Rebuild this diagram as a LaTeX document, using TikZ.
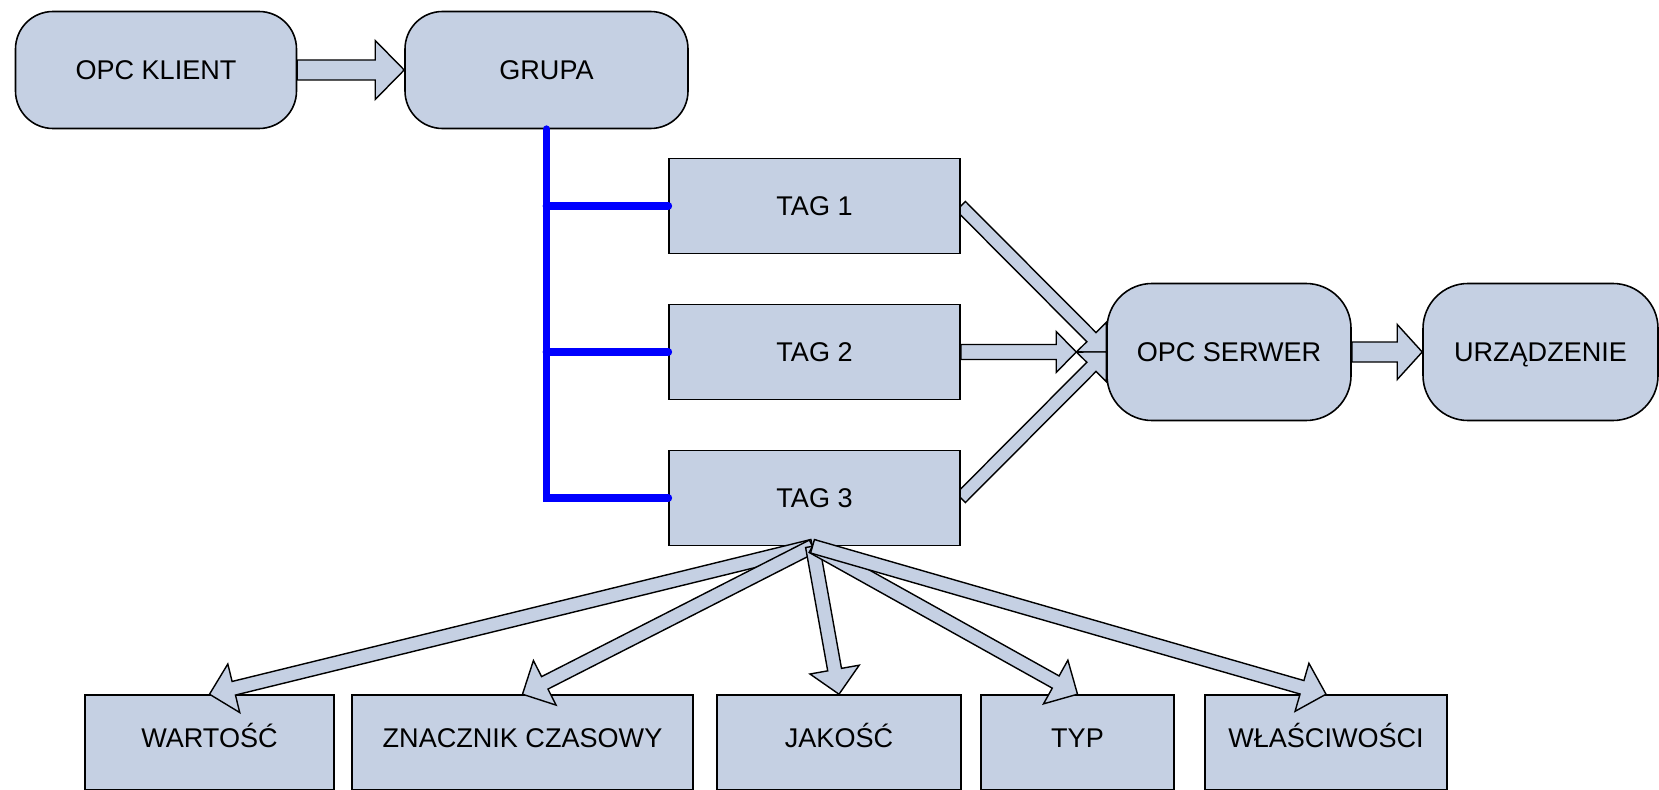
\documentclass[tikz,border=0pt]{standalone}
\usepackage{fontspec}
\setmainfont{Liberation Sans}
\usepackage{xcolor}
\usetikzlibrary{calc}
\definecolor{opcfill}{RGB}{197,208,227}
\definecolor{bus}{RGB}{0,0,255}
\tikzstyle{box}=[draw, fill=opcfill, line width=0.9pt, inner sep=0pt, minimum height=1.9cm, text height=11pt, text depth=0pt, font=\fontsize{15.4}{18}\selectfont]
\tikzstyle{pill}=[box, rounded corners=0.75cm, minimum height=2.34cm]
\tikzstyle{field}=[box, text depth=4.8pt]
\tikzset{link/.style={draw=bus, line width=4.5pt, line cap=round}}
%% block arrow: half shaft, half head, head length
\tikzset{fat/.style n args={3}{draw, fill=opcfill, line width=0.8pt, line join=miter,
    to path={
      ($(\tikztostart)!#1!90:(\tikztotarget)$)
      -- ($(\tikztotarget)!#3!(\tikztostart)!#1!270:(\tikztostart)$)
      -- ($(\tikztotarget)!#3!(\tikztostart)!#2!270:(\tikztostart)$)
      -- (\tikztotarget)
      -- ($(\tikztotarget)!#3!(\tikztostart)!#2!90:(\tikztostart)$)
      -- ($(\tikztotarget)!#3!(\tikztostart)!#1!90:(\tikztostart)$)
      -- ($(\tikztostart)!#1!270:(\tikztotarget)$)
      -- cycle}}}
\pgfdeclarelayer{background}
\pgfsetlayers{background,main}

\begin{document}
\begin{tikzpicture}
  \useasboundingbox (0,0) rectangle (33.18,15.78);

  \draw (3.12,14.38) node[pill,minimum width=5.62cm] (klient) {OPC KLIENT};
  \draw (10.93,14.38) node[pill,minimum width=5.66cm] (grupa) {GRUPA};

  \draw (16.29,11.66) node[box,minimum width=5.82cm] (tag1) {TAG 1};
  \draw (16.29,8.74) node[box,minimum width=5.82cm] (tag2) {TAG 2};
  \draw (16.29,5.82) node[box,minimum width=5.82cm] (tag3) {TAG 3};

  \draw (24.58,8.74) node[pill,rounded corners=0.9cm,minimum width=4.88cm,minimum height=2.74cm] (serwer) {OPC SERWER};
  \draw (30.81,8.74) node[pill,rounded corners=0.9cm,minimum width=4.7cm,minimum height=2.74cm] (urzadzenie) {URZĄDZENIE};

  \draw (4.19,0.93) node[field,minimum width=4.98cm] (wartosc) {WARTOŚĆ};
  \draw (10.45,0.93) node[field,minimum width=6.82cm] (znacznik) {ZNACZNIK CZASOWY};
  \draw (16.78,0.93) node[field,minimum width=4.88cm] (jakosc) {JAKOŚĆ};
  \draw (21.55,0.93) node[field,minimum width=3.86cm] (typ) {TYP};
  \draw (26.52,0.93) node[field,minimum width=4.84cm] (wlasciwosci) {WŁAŚCIWOŚCI};

  \coordinate (hub) at ([xshift=-0.04cm]tag3.south);
  \coordinate (tag2tip) at ([xshift=-0.6cm]serwer.west);

  %% tags to the server, under its box
  \begin{pgfonlayer}{background}
    \draw[fat={0.13cm}{0.42cm}{0.42cm}] (tag1.east) to (serwer.west);
    \draw[fat={0.13cm}{0.42cm}{0.42cm}] (tag3.east) to (serwer.west);
    \draw[fat={0.15cm}{0.41cm}{0.4cm}] (tag2.east) to (tag2tip);
  \end{pgfonlayer}

  \draw[fat={0.2cm}{0.59cm}{0.58cm}] (klient.east) to (grupa.west);
  \draw[fat={0.2cm}{0.55cm}{0.5cm}] (serwer.east) to (urzadzenie.west);

  %% tag 3 fields
  \draw[fat={0.14cm}{0.5cm}{0.5cm}] (hub) to (wartosc.north);
  \draw[fat={0.14cm}{0.5cm}{0.5cm}] (hub) to (znacznik.north);
  \draw[fat={0.14cm}{0.5cm}{0.5cm}] (hub) to (jakosc.north);
  \draw[fat={0.14cm}{0.5cm}{0.5cm}] (hub) to (typ.north);
  \draw[fat={0.14cm}{0.5cm}{0.5cm}] (hub) to (wlasciwosci.north);

  %% group bus
  \draw[link] (grupa.south) |- (tag3.west);
  \draw[link] (tag1.west -| grupa.south) -- (tag1.west);
  \draw[link] (tag2.west -| grupa.south) -- (tag2.west);
\end{tikzpicture}
\end{document}
